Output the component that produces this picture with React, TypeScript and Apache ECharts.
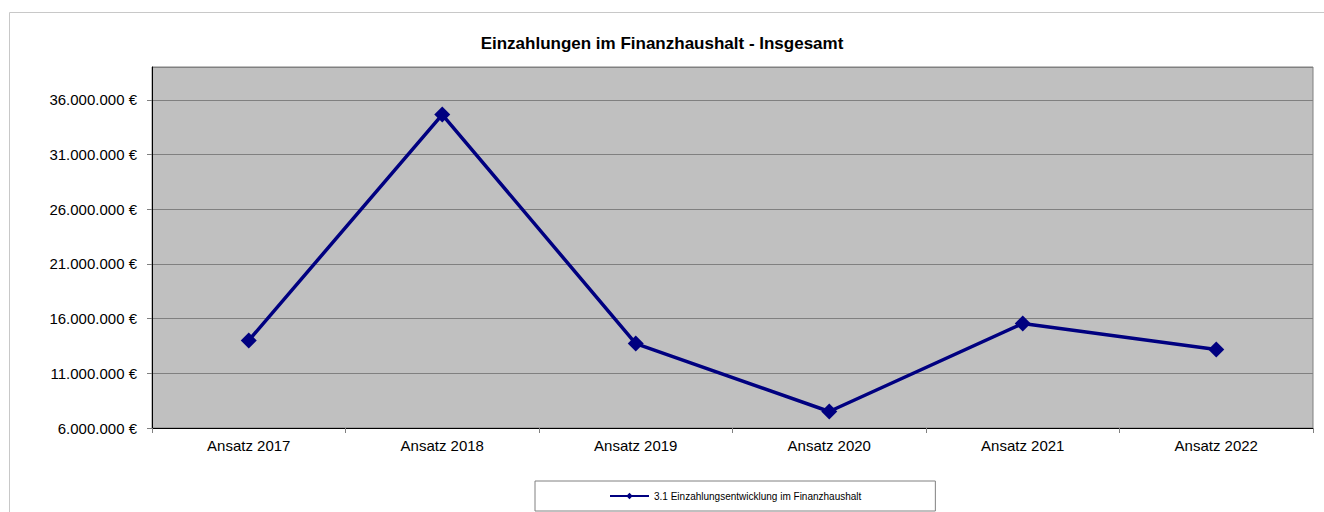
import React, { useEffect, useRef } from "react";
import * as echarts from "echarts";

const categories = ["Ansatz 2017", "Ansatz 2018", "Ansatz 2019", "Ansatz 2020", "Ansatz 2021", "Ansatz 2022"];
const values = [14000000, 34650000, 13720000, 7510000, 15550000, 13180000];
const seriesName = "3.1 Einzahlungsentwicklung im Finanzhaushalt";
const titleText = "Einzahlungen im Finanzhaushalt - Insgesamt";

const fmt = (v: number) => {
  const s = Math.round(v).toString().replace(/\B(?=(\d{3})+(?!\d))/g, ".");
  return s + " €";
};

export default function App() {
  const ref = useRef<HTMLDivElement>(null);
  useEffect(() => {
    if (!ref.current) return;
    const chart = echarts.init(ref.current, undefined, { renderer: "svg" });
    chart.setOption({
      animation: false,
      backgroundColor: "#ffffff",
      textStyle: { fontFamily: "Liberation Sans" },
      title: {
        text: titleText,
        left: "center",
        top: 30,
        textStyle: { fontSize: 17, fontWeight: "bold", color: "#000", fontFamily: "Liberation Sans" },
      },
      graphic: [
        {
          type: "rect",
          left: 7,
          top: 10,
          shape: { width: 1340, height: 530 },
          style: { fill: "none", stroke: "#c8c8c8", lineWidth: 1 },
          silent: true,
        },
      ],
      grid: { left: 152, right: 11, top: 67, bottom: 84, show: true, backgroundColor: "#c0c0c0", borderColor: "#808080", borderWidth: 1 },
      legend: {
        data: [seriesName],
        top: 481,
        left: 535,
        borderColor: "#808080",
        borderWidth: 1,
        padding: [10, 74, 10, 74],
        itemWidth: 39,
        itemHeight: 8,
        itemGap: 4,
        lineStyle: { width: 2 },
        textStyle: { fontSize: 10, color: "#000", fontFamily: "Liberation Sans" },
      },
      xAxis: {
        type: "category",
        data: categories,
        boundaryGap: true,
        axisLine: { lineStyle: { color: "#000", width: 1 } },
        axisTick: { show: true, length: 5, lineStyle: { color: "#808080" } },
        axisLabel: { fontSize: 15, color: "#000", margin: 10, fontFamily: "Liberation Sans" },
        splitLine: { show: false },
      },
      yAxis: {
        type: "value",
        min: 6000000,
        max: 39000000,
        interval: 5000000,
        axisLine: { show: true, lineStyle: { color: "#000", width: 1 } },
        axisTick: { show: true, length: 5, lineStyle: { color: "#808080" } },
        axisLabel: { fontSize: 15, color: "#000", margin: 15, formatter: fmt, showMaxLabel: false, fontFamily: "Liberation Sans" },
        splitLine: { show: true, lineStyle: { color: "#808080", width: 1 } },
      },
      series: [
        {
          name: seriesName,
          type: "line",
          data: values,
          symbol: "diamond",
          symbolSize: 16,
          lineStyle: { color: "#000080", width: 3.5 },
          itemStyle: { color: "#000080" },
        },
      ],
    });
    return () => chart.dispose();
  }, []);
  return <div ref={ref} style={{ position: "fixed", left: 0, top: 0, width: 1324, height: 512 }} />;
}
